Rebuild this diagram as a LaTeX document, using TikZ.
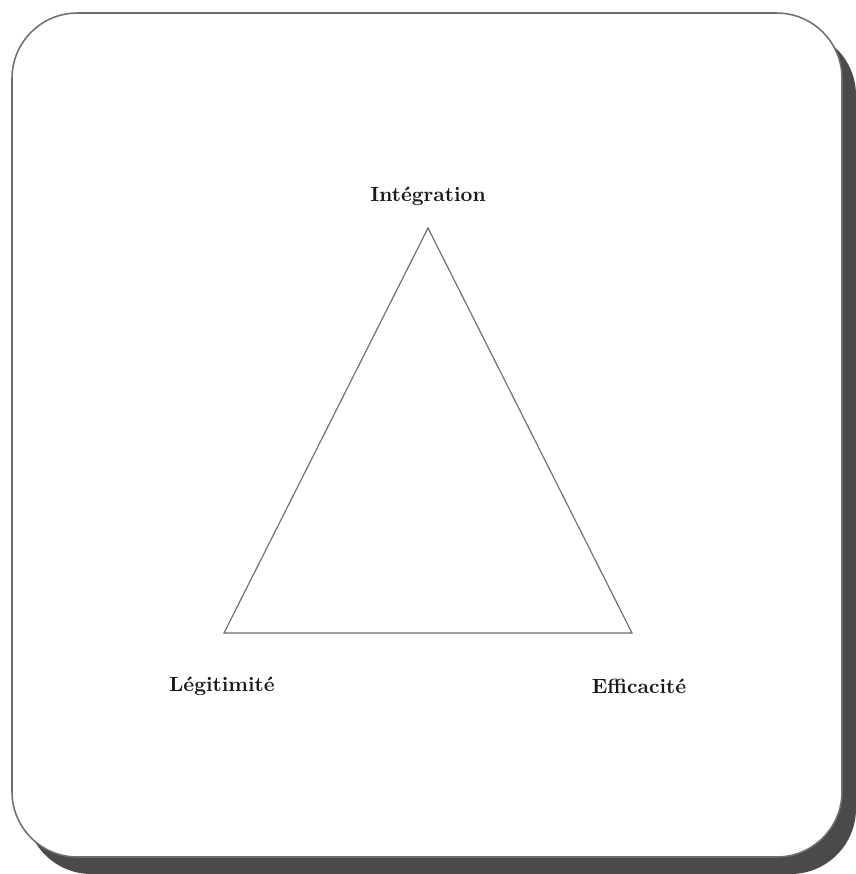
\documentclass[tikz,border=0pt]{standalone}
\usetikzlibrary{positioning}
\definecolor{framegray}{HTML}{6E6E6E}
\definecolor{shadowgray}{HTML}{4A4A4A}
\tikzstyle{pole} = [font=\fontsize{10.7}{13}\selectfont\bfseries, text=black!90, inner sep=0pt]
\tikzstyle{side} = [draw=framegray, line width=0.6pt]

\begin{document}
\begin{tikzpicture}[x=0.52pt, y=-0.52pt]

\useasboundingbox (0,0) rectangle (856,874);

% Frame with shadow
\fill[shadowgray, rounded corners=34pt] (26,30) rectangle (856,874);
\filldraw[fill=white, draw=framegray, line width=0.8pt, rounded corners=34pt] (12,13) rectangle (842,857);

% Triangle corners
\coordinate (top) at (428,228);
\coordinate (left) at (224,633);
\coordinate (right) at (632,633);

\draw[side] (top) -- (right) -- (left) -- cycle;

% Labels
\node[pole] (integ) at (428,196) {Intégration};
\node[pole] (legit) at (222,686) {Légitimité};
\node[pole] (effic) at (639,686) {Efficacité};

\end{tikzpicture}
\end{document}
